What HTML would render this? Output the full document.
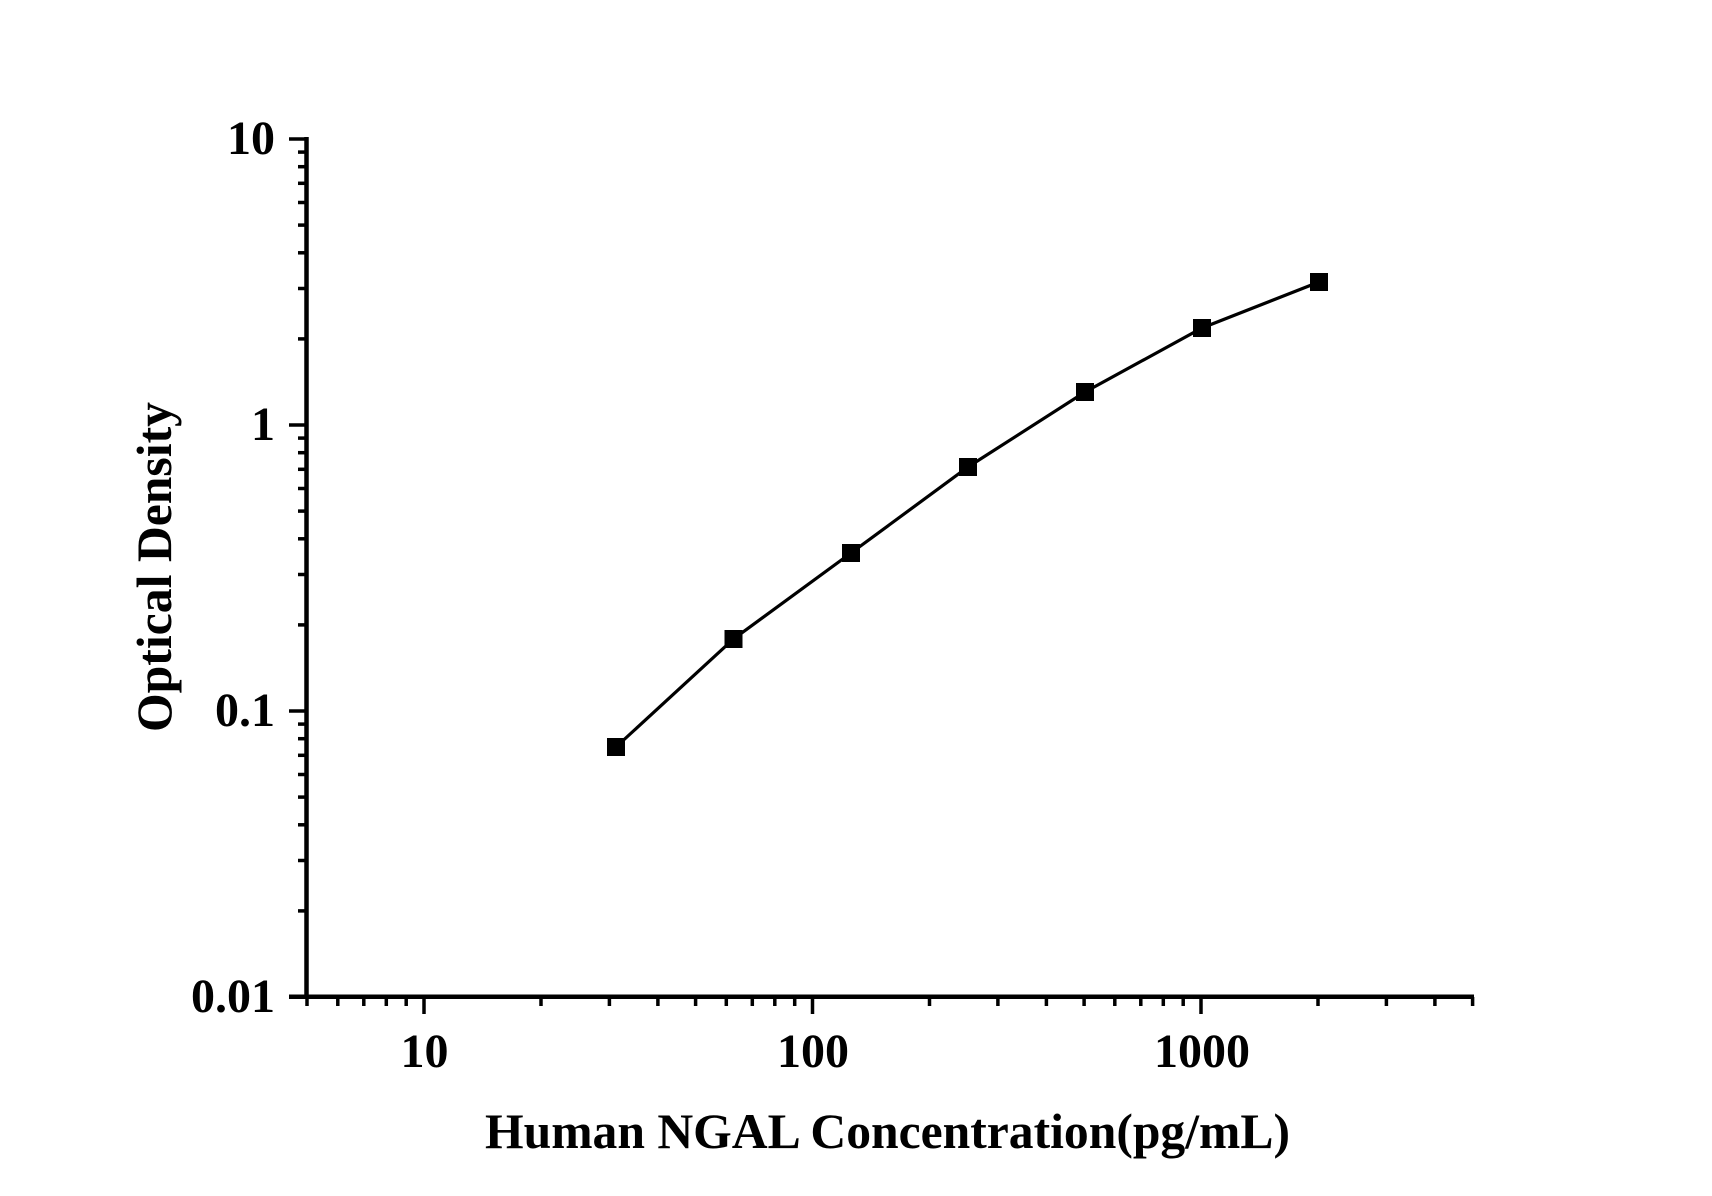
<!DOCTYPE html>
<html><head><meta charset="utf-8"><style>
html,body{margin:0;padding:0;background:#fff;}
svg{display:block;}
text{font-family:"Liberation Serif",serif;font-weight:bold;fill:#000;}
</style></head><body>
<svg width="1712" height="1196" viewBox="0 0 1712 1196" xmlns="http://www.w3.org/2000/svg">
<rect width="1712" height="1196" fill="#fff"/>
<g stroke="#000" stroke-width="4.5" fill="none">
<line x1="306.5" y1="137" x2="306.5" y2="999"/>
<line x1="289" y1="996.7" x2="1474" y2="996.7"/>
</g>
<g stroke="#000" stroke-width="3.5">
<!-- y major -->
<line x1="289" y1="139" x2="306" y2="139"/>
<line x1="289" y1="425" x2="306" y2="425"/>
<line x1="289" y1="711" x2="306" y2="711"/>
<!-- y minor -->
<line x1="298" y1="910.9" x2="306" y2="910.9"/><line x1="298" y1="860.5" x2="306" y2="860.5"/><line x1="298" y1="824.8" x2="306" y2="824.8"/><line x1="298" y1="797.1" x2="306" y2="797.1"/><line x1="298" y1="774.5" x2="306" y2="774.5"/><line x1="298" y1="755.3" x2="306" y2="755.3"/><line x1="298" y1="738.7" x2="306" y2="738.7"/><line x1="298" y1="724.1" x2="306" y2="724.1"/>
<line x1="298" y1="624.9" x2="306" y2="624.9"/><line x1="298" y1="574.5" x2="306" y2="574.5"/><line x1="298" y1="538.8" x2="306" y2="538.8"/><line x1="298" y1="511.1" x2="306" y2="511.1"/><line x1="298" y1="488.5" x2="306" y2="488.5"/><line x1="298" y1="469.3" x2="306" y2="469.3"/><line x1="298" y1="452.7" x2="306" y2="452.7"/><line x1="298" y1="438.1" x2="306" y2="438.1"/>
<line x1="298" y1="338.9" x2="306" y2="338.9"/><line x1="298" y1="288.5" x2="306" y2="288.5"/><line x1="298" y1="252.8" x2="306" y2="252.8"/><line x1="298" y1="225.1" x2="306" y2="225.1"/><line x1="298" y1="202.5" x2="306" y2="202.5"/><line x1="298" y1="183.3" x2="306" y2="183.3"/><line x1="298" y1="166.7" x2="306" y2="166.7"/><line x1="298" y1="152.1" x2="306" y2="152.1"/>
<!-- x major -->
<line x1="424" y1="997" x2="424" y2="1014"/>
<line x1="812.5" y1="997" x2="812.5" y2="1014"/>
<line x1="1201" y1="997" x2="1201" y2="1014"/>
<!-- x minor -->
<line x1="307" y1="997" x2="307" y2="1006"/><line x1="337.8" y1="997" x2="337.8" y2="1006"/><line x1="363.8" y1="997" x2="363.8" y2="1006"/><line x1="386.3" y1="997" x2="386.3" y2="1006"/><line x1="406.2" y1="997" x2="406.2" y2="1006"/>
<line x1="541" y1="997" x2="541" y2="1006"/><line x1="609.4" y1="997" x2="609.4" y2="1006"/><line x1="657.9" y1="997" x2="657.9" y2="1006"/><line x1="695.6" y1="997" x2="695.6" y2="1006"/><line x1="726.3" y1="997" x2="726.3" y2="1006"/><line x1="752.3" y1="997" x2="752.3" y2="1006"/><line x1="774.8" y1="997" x2="774.8" y2="1006"/><line x1="794.7" y1="997" x2="794.7" y2="1006"/>
<line x1="929.5" y1="997" x2="929.5" y2="1006"/><line x1="997.9" y1="997" x2="997.9" y2="1006"/><line x1="1046.4" y1="997" x2="1046.4" y2="1006"/><line x1="1084.1" y1="997" x2="1084.1" y2="1006"/><line x1="1114.8" y1="997" x2="1114.8" y2="1006"/><line x1="1140.8" y1="997" x2="1140.8" y2="1006"/><line x1="1163.3" y1="997" x2="1163.3" y2="1006"/><line x1="1183.2" y1="997" x2="1183.2" y2="1006"/>
<line x1="1318" y1="997" x2="1318" y2="1006"/><line x1="1386.4" y1="997" x2="1386.4" y2="1006"/><line x1="1434.9" y1="997" x2="1434.9" y2="1006"/><line x1="1472.6" y1="997" x2="1472.6" y2="1006"/>
</g>
<!-- y tick labels -->
<g font-size="48" text-anchor="end">
<text x="275" y="154">10</text>
<text x="275" y="440">1</text>
<text x="275" y="726">0.1</text>
<text x="275" y="1012">0.01</text>
</g>
<!-- x tick labels -->
<g font-size="48" text-anchor="middle">
<text x="424.5" y="1067">10</text>
<text x="813" y="1067">100</text>
<text x="1202" y="1067">1000</text>
</g>
<!-- axis titles -->
<text x="485" y="1148" font-size="50" textLength="805" lengthAdjust="spacingAndGlyphs">Human NGAL Concentration(pg/mL)</text>
<text transform="translate(171,732) rotate(-90)" font-size="50" textLength="330" lengthAdjust="spacingAndGlyphs">Optical Density</text>
<!-- series -->
<polyline points="616,747 733.5,639 851,553 968,467 1085,392 1202,328 1319,282" fill="none" stroke="#000" stroke-width="3.2"/>
<g fill="#000">
<rect x="607" y="738" width="18" height="18"/>
<rect x="724.5" y="630" width="18" height="18"/>
<rect x="842" y="544" width="18" height="18"/>
<rect x="959" y="458" width="18" height="18"/>
<rect x="1076" y="383" width="18" height="18"/>
<rect x="1193" y="319" width="18" height="18"/>
<rect x="1310" y="273" width="18" height="18"/>
</g>
</svg>
</body></html>
